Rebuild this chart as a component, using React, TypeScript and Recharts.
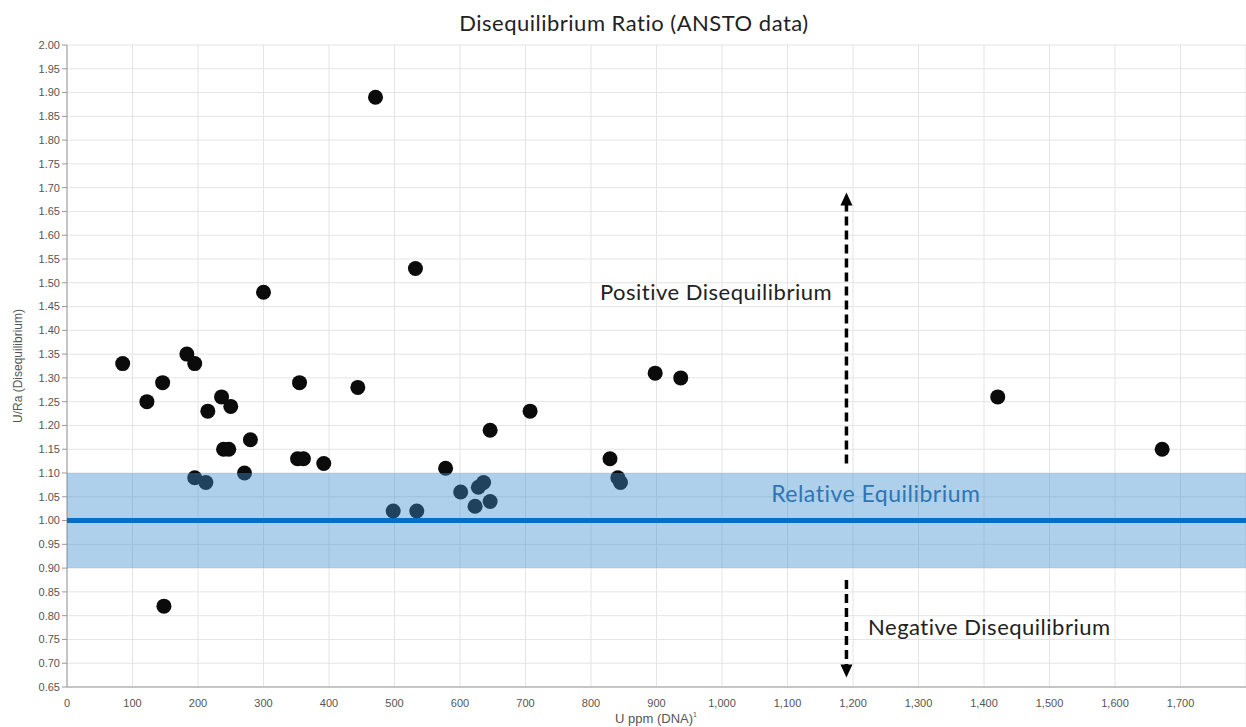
import React from 'react';
import {
  ScatterChart, Scatter, XAxis, YAxis, CartesianGrid,
  ReferenceArea, ReferenceLine, ReferenceDot,
} from 'recharts';

// U ppm (DNA) and U/Ra disequilibrium ratio
const uPpm = [
  85, 122, 146, 148, 183, 195, 195, 212, 215, 236,
  250, 239, 247, 271, 280, 300, 355, 352, 361, 392,
  471, 444, 498, 534, 532, 578, 601, 623, 628, 636,
  646, 646, 707, 829, 841, 845, 898, 937, 1421, 1672,
];
const ratio = [
  1.33, 1.25, 1.29, 0.82, 1.35, 1.33, 1.09, 1.08, 1.23, 1.26,
  1.24, 1.15, 1.15, 1.10, 1.17, 1.48, 1.29, 1.13, 1.13, 1.12,
  1.89, 1.28, 1.02, 1.02, 1.53, 1.11, 1.06, 1.03, 1.07, 1.08,
  1.04, 1.19, 1.23, 1.13, 1.09, 1.08, 1.31, 1.30, 1.26, 1.15,
];

const xTicks = [0, 100, 200, 300, 400, 500, 600, 700, 800, 900, 1000, 1100, 1200, 1300, 1400, 1500, 1600, 1700];
const yTicks = [
  0.65, 0.7, 0.75, 0.8, 0.85, 0.9, 0.95, 1.0, 1.05, 1.1, 1.15, 1.2, 1.25, 1.3,
  1.35, 1.4, 1.45, 1.5, 1.55, 1.6, 1.65, 1.7, 1.75, 1.8, 1.85, 1.9, 1.95, 2.0,
];

// equilibrium band and arrows
const bandLow = 0.9;
const bandHigh = 1.1;
const equilibrium = 1.0;
const arrowX = 1190;
const upArrow = { from: 1.12, tip: 1.69 };
const downArrow = { from: 0.875, tip: 0.67 };

const points = uPpm.map((u, i) => ({ u, r: ratio[i] }));

const labelFont = 'Lato, "Open Sans", sans-serif';
const tickFont = '"Liberation Sans", Arial, sans-serif';

const fmtX = (v: number) => v.toLocaleString('en-US');

const Dot = (p: any) => <circle cx={p.cx} cy={p.cy} r={7.5} fill="#0b0b0b" />;

const headUp = (p: any) => (
  <polygon points={`${p.cx},${p.cy} ${p.cx - 6},${p.cy + 13} ${p.cx + 6},${p.cy + 13}`} fill="#000" />
);
const headDown = (p: any) => (
  <polygon points={`${p.cx},${p.cy} ${p.cx - 6},${p.cy - 13} ${p.cx + 6},${p.cy - 13}`} fill="#000" />
);

const note = (text: string, anchor: 'start' | 'end', color: string, size = 22) => (p: any) => (
  <text x={p.cx} y={p.cy} textAnchor={anchor} fontFamily={labelFont} fontSize={size} letterSpacing={0.5} fill={color}>
    {text}
  </text>
);

export default function App() {
  return (
    <div style={{ position: 'absolute', left: 0, top: 0, background: '#fff' }}>
      <ScatterChart width={1246} height={727} margin={{ top: 45, right: 0, bottom: 10, left: 0 }}>
        <text x={634} y={31} textAnchor="middle" fontFamily={labelFont} fontSize={22} letterSpacing={0.5} fill="#222">
          Disequilibrium Ratio (ANSTO data)
        </text>
        <CartesianGrid stroke="#e4e4e4" />
        <XAxis
          type="number"
          dataKey="u"
          domain={[0, 1800]}
          ticks={xTicks}
          tickFormatter={fmtX}
          tick={{ fontSize: 11, fill: '#555', fontFamily: tickFont }}
          tickLine={false}
          axisLine={{ stroke: '#999' }}
          tickMargin={6}
          height={30}
          interval={0}
          label={{
            content: () => (
              <text x={656} y={723} textAnchor="middle" fontFamily={tickFont} fontSize={13} fill="#555">
                U ppm (DNA)<tspan dy={-6} fontSize={7}>1</tspan>
              </text>
            ),
          }}
        />
        <YAxis
          type="number"
          dataKey="r"
          domain={[0.65, 2.0]}
          ticks={yTicks}
          tickFormatter={(v: number) => v.toFixed(2)}
          tick={{ fontSize: 11, fill: '#555', fontFamily: tickFont }}
          tickLine={{ stroke: '#999' }}
          tickSize={5}
          axisLine={{ stroke: '#999' }}
          width={67}
          interval={0}
          label={{
            content: () => (
              <text x={22} y={366} transform="rotate(-90 22 366)" textAnchor="middle" fontFamily={tickFont} fontSize={12} fill="#555">
                U/Ra (Disequilibrium)
              </text>
            ),
          }}
        />
        <Scatter data={points} shape={Dot} isAnimationActive={false} />
        <ReferenceArea y1={bandLow} y2={bandHigh} fill="#3d8fd0" fillOpacity={0.42} stroke="none" zIndex={700} />
        <ReferenceLine y={equilibrium} stroke="#0b6dc1" strokeWidth={5} zIndex={710} />
        <ReferenceLine
          segment={[{ x: arrowX, y: upArrow.from }, { x: arrowX, y: upArrow.tip - 0.026 }]}
          stroke="#000"
          strokeWidth={3.5}
          strokeDasharray="9 5"
        />
        <ReferenceDot x={arrowX} y={upArrow.tip} shape={headUp} />
        <ReferenceLine
          segment={[{ x: arrowX, y: downArrow.from }, { x: arrowX, y: downArrow.tip + 0.026 }]}
          stroke="#000"
          strokeWidth={3.5}
          strokeDasharray="9 5"
        />
        <ReferenceDot x={arrowX} y={downArrow.tip} shape={headDown} />
        <ReferenceDot x={1168} y={1.464} shape={note('Positive Disequilibrium', 'end', '#222')} />
        <ReferenceDot x={1223} y={0.76} shape={note('Negative Disequilibrium', 'start', '#222')} />
        <ReferenceDot x={1075} y={1.039} zIndex={720} shape={note('Relative Equilibrium', 'start', '#2e75b6', 23)} />
      </ScatterChart>
    </div>
  );
}
